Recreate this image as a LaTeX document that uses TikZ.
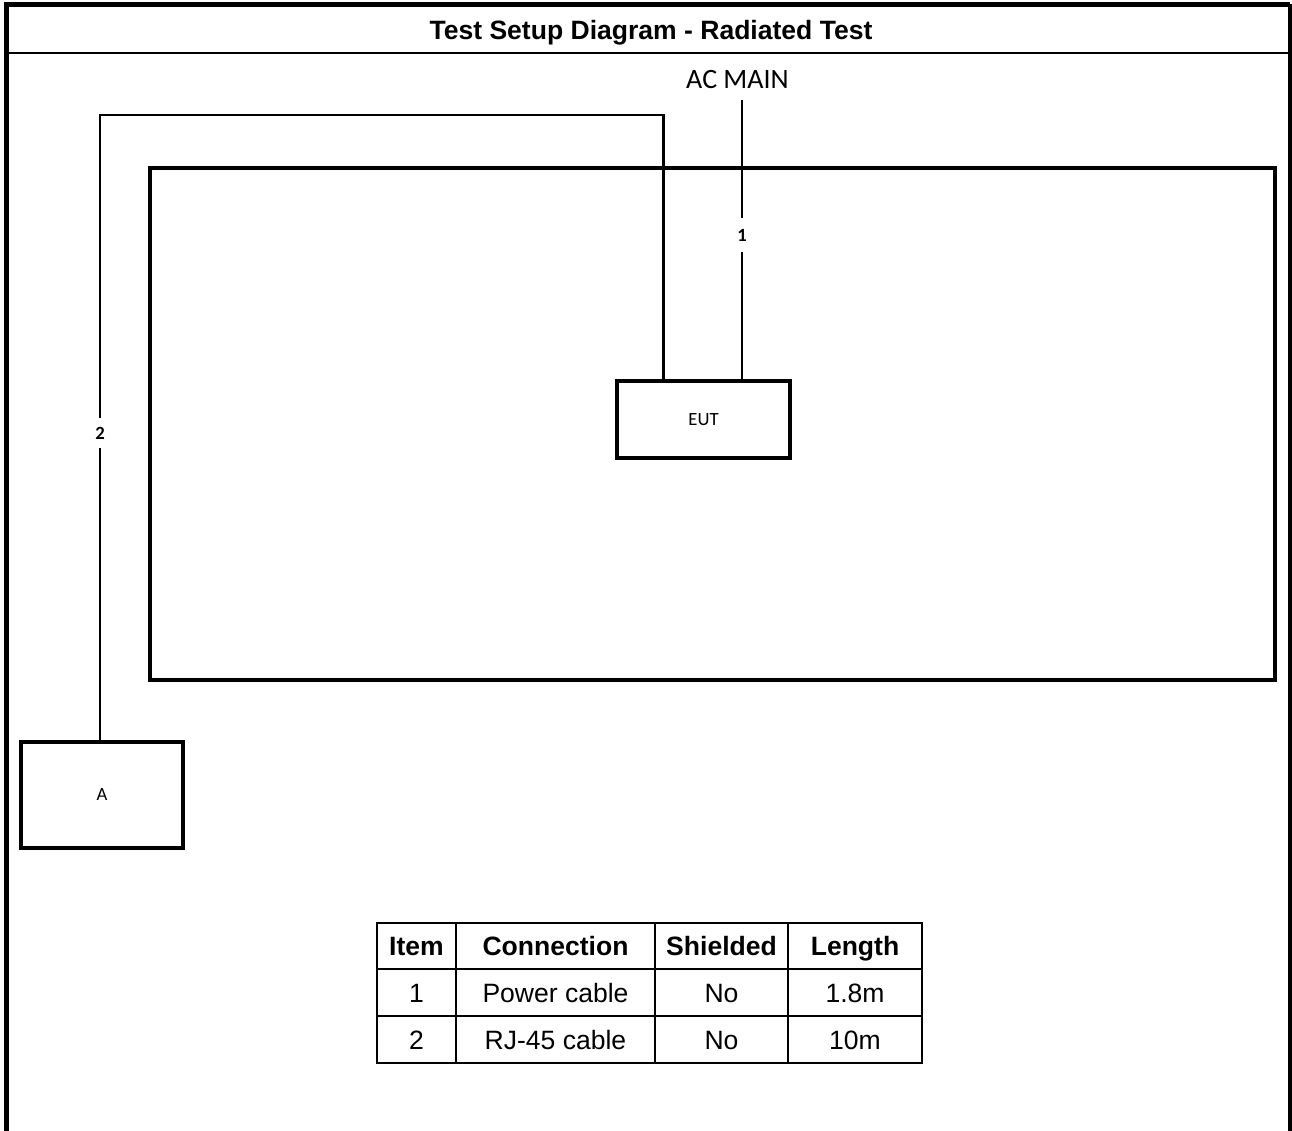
\documentclass[tikz,border=0pt]{standalone}
\usepackage{fontspec}
\setmainfont{Liberation Sans}
\newfontfamily\calfont{Carlito}
\begin{document}
\begin{tikzpicture}[x=0.75pt,y=-0.75pt,
  box/.style={draw,line width=3pt,inner sep=0pt,outer sep=0pt,font=\calfont\fontsize{14}{16}\selectfont},
  cable/.style={line width=1.9pt},
  cablelabel/.style={inner sep=0pt,font=\calfont\bfseries\fontsize{14}{16}\selectfont},
  cell/.style={draw,line width=2.2pt,inner sep=0pt,outer sep=0pt,text height=14.3pt,text depth=0pt,
    font=\fontsize{19.9}{22}\selectfont},
  hcell/.style={cell,font=\bfseries\fontsize{19.9}{22}\selectfont}]
\useasboundingbox (0,0) rectangle (1292,1131);
% outer frame (open at bottom)
\draw[line width=3.8pt] (6.5,1131) -- (6.5,4.5) -- (1290,4.5);
\draw[line width=2.4pt] (1290,4.5) -- (1290,1131);
\draw[line width=2pt] (6.5,53) -- (1290,53);
\node[text height=14.3pt,text depth=0pt,inner sep=0pt,font=\bfseries\fontsize{19.9}{22}\selectfont] (title) at (651,30) {Test Setup Diagram - Radiated Test};
% test area
\node[draw,line width=3pt,minimum width=1125*0.75pt,minimum height=512*0.75pt,inner sep=0pt] (room) at (712.5,424) {};
% equipment
\node[box,minimum width=173*0.75pt,minimum height=77*0.75pt] (EUT) at (703.5,419.5) {EUT};
\node[box,minimum width=162*0.75pt,minimum height=106*0.75pt] (A) at (102,795) {A};
\node[inner sep=0pt,font=\calfont\fontsize{21}{24}\selectfont] (acmain) at (737.5,80) {AC MAIN};
% cable 1
\coordinate (acend) at (742,100);
\node[cablelabel,minimum height=34*0.75pt] (lab1) at (742,235) {1};
\draw[cable] (acend) -- (lab1.north);
\draw[cable] (lab1.south) -- (EUT.north -| lab1);
% cable 2
\coordinate (c2a) at (663.5,115);
\coordinate (c2b) at (100,115);
\node[cablelabel,minimum height=30*0.75pt] (lab2) at (100,433) {2};
\draw[cable] (EUT.north -| c2a) -- (c2a) -- (c2b) -- (lab2.north);
\draw[cable] (lab2.south) -- (A.north -| lab2);
% table
\node[hcell,minimum width=79*0.75pt,minimum height=46*0.75pt] (h1) at (416.5,946) {Item};
\node[hcell,minimum width=199*0.75pt,minimum height=46*0.75pt] (h2) at (555.5,946) {Connection};
\node[hcell,minimum width=133*0.75pt,minimum height=46*0.75pt] (h3) at (721.5,946) {Shielded};
\node[hcell,minimum width=134*0.75pt,minimum height=46*0.75pt] (h4) at (855,946) {Length};
\node[cell,minimum width=79*0.75pt,minimum height=47*0.75pt] (a1) at (416.5,992.5) {1};
\node[cell,minimum width=199*0.75pt,minimum height=47*0.75pt] (a2) at (555.5,992.5) {Power cable};
\node[cell,minimum width=133*0.75pt,minimum height=47*0.75pt] (a3) at (721.5,992.5) {No};
\node[cell,minimum width=134*0.75pt,minimum height=47*0.75pt] (a4) at (855,992.5) {1.8m};
\node[cell,minimum width=79*0.75pt,minimum height=47*0.75pt] (b1) at (416.5,1039.5) {2};
\node[cell,minimum width=199*0.75pt,minimum height=47*0.75pt] (b2) at (555.5,1039.5) {RJ-45 cable};
\node[cell,minimum width=133*0.75pt,minimum height=47*0.75pt] (b3) at (721.5,1039.5) {No};
\node[cell,minimum width=134*0.75pt,minimum height=47*0.75pt] (b4) at (855,1039.5) {10m};
\end{tikzpicture}
\end{document}
